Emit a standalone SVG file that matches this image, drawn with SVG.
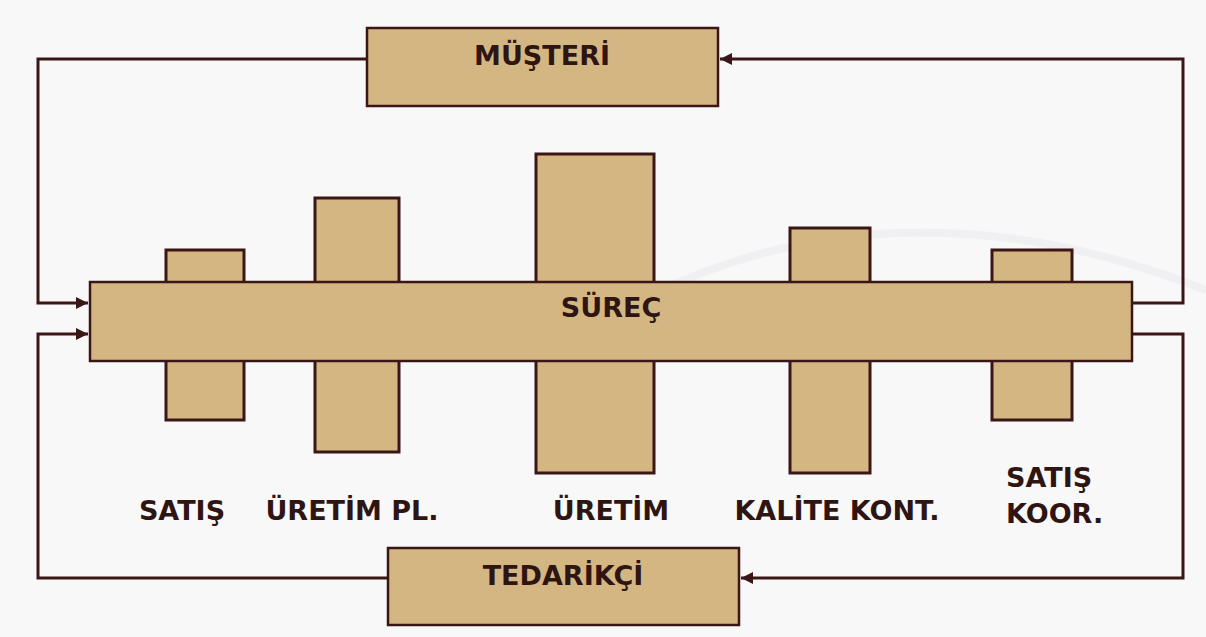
<svg xmlns="http://www.w3.org/2000/svg" width="1206" height="637" viewBox="0 0 1206 637">
  <defs>
    <style>
      .box { fill: #D4B683; stroke: #3a1616; stroke-width: 2.5; }
      .bar { fill: #D4B683; stroke: #3a1616; stroke-width: 3; }
      .wire { fill: none; stroke: #3a1616; stroke-width: 3; stroke-linejoin: miter; }
      .lbl { font-family: "DejaVu Sans", Verdana, sans-serif; font-weight: bold; font-size: 27px; fill: #2e1512; }
      .mid { text-anchor: middle; }
    </style>
    <marker id="arrow" viewBox="0 0 10 10" refX="10" refY="5" markerWidth="4" markerHeight="4" orient="auto" markerUnits="strokeWidth">
      <path d="M0,0 L10,5 L0,10 z" fill="#3a1616"/>
    </marker>
  </defs>

  <!-- background -->
  <rect x="0" y="0" width="1206" height="637" fill="#f8f8f9"/>
  <path d="M640,300 Q900,170 1206,290" fill="none" stroke="#ececf0" stroke-width="8" opacity="0.7"/>

  <!-- connectors -->
  <g id="connectors">
    <polyline class="wire" points="367,59 38,59 38,303 88,303" marker-end="url(#arrow)"/>
    <polyline class="wire" points="388,578 38,578 38,334 88,334" marker-end="url(#arrow)"/>
    <polyline class="wire" points="1132,303 1183,303 1183,59 720,59" marker-end="url(#arrow)"/>
    <polyline class="wire" points="1132,334 1183,334 1183,578 741,578" marker-end="url(#arrow)"/>
  </g>

  <!-- department bars crossing the process -->
  <g id="bar-satis"><rect class="bar" x="166" y="250" width="78" height="170"/></g>
  <g id="bar-uretim-pl"><rect class="bar" x="315" y="198" width="84" height="254"/></g>
  <g id="bar-uretim"><rect class="bar" x="536" y="154" width="118" height="319"/></g>
  <g id="bar-kalite"><rect class="bar" x="790" y="228" width="80" height="245"/></g>
  <g id="bar-satis-koor"><rect class="bar" x="992" y="250" width="80" height="170"/></g>

  <!-- process -->
  <g id="surec">
    <rect class="box" x="90" y="282" width="1042" height="79"/>
    <text class="lbl mid" x="611" y="317">SÜREÇ</text>
  </g>

  <!-- customer -->
  <g id="musteri">
    <rect class="box" x="367" y="28" width="351" height="78"/>
    <text class="lbl mid" x="542" y="65">MÜŞTERİ</text>
  </g>

  <!-- supplier -->
  <g id="tedarikci">
    <rect class="box" x="388" y="548" width="351" height="77"/>
    <text class="lbl mid" x="563" y="585">TEDARİKÇİ</text>
  </g>

  <!-- department labels -->
  <g id="labels">
    <text class="lbl mid" x="182" y="520">SATIŞ</text>
    <text class="lbl mid" x="352" y="520">ÜRETİM PL.</text>
    <text class="lbl mid" x="611" y="520">ÜRETİM</text>
    <text class="lbl mid" x="837" y="520">KALİTE KONT.</text>
    <text class="lbl" x="1006" y="487">SATIŞ</text>
    <text class="lbl" x="1006" y="523">KOOR.</text>
  </g>
</svg>
